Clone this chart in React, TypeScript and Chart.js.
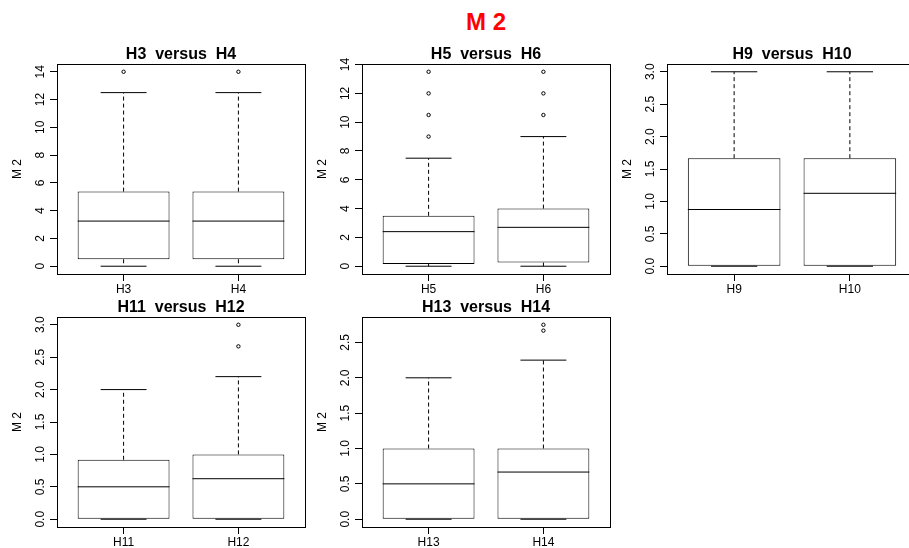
import React, { useEffect, useRef } from "react";
import { Chart, registerables } from "chart.js";

Chart.register(...registerables);

// ---------------- data ----------------
const MAIN_TITLE = "M 2";
const Y_AXIS_LABEL = "M 2";
const PANEL_TITLES = [
  "H3  versus  H4",
  "H5  versus  H6",
  "H9  versus  H10",
  "H11  versus  H12",
  "H13  versus  H14",
];
const GROUP_NAMES = [
  ["H3", "H4"],
  ["H5", "H6"],
  ["H9", "H10"],
  ["H11", "H12"],
  ["H13", "H14"],
];
const LOWER_WHISKERS = [
  [0, 0],
  [0, 0],
  [0, 0],
  [0, 0],
  [0, 0],
];
const Q1_VALUES = [
  [0.5, 0.5],
  [0.15, 0.25],
  [0, 0],
  [0, 0],
  [0, 0],
];
const MEDIANS = [
  [3.25, 3.25],
  [2.4, 2.7],
  [0.875, 1.125],
  [0.5, 0.625],
  [0.5, 0.667],
];
const Q3_VALUES = [
  [5.375, 5.375],
  [3.5, 4.0],
  [1.667, 1.667],
  [0.917, 1.0],
  [1.0, 1.0],
];
const UPPER_WHISKERS = [
  [12.5, 12.5],
  [7.5, 9],
  [3, 3],
  [2, 2.2],
  [2, 2.25],
];
const OUTLIERS = [
  [[14], [14]],
  [[9, 10.5, 12, 13.5], [10.5, 12, 13.5]],
  [[], []],
  [[], [2.667, 3]],
  [[], [2.667, 2.75]],
];
const Y_TICK_LABELS = [
  ["0", "2", "4", "6", "8", "10", "12", "14"],
  ["0", "2", "4", "6", "8", "10", "12", "14"],
  ["0.0", "0.5", "1.0", "1.5", "2.0", "2.5", "3.0"],
  ["0.0", "0.5", "1.0", "1.5", "2.0", "2.5", "3.0"],
  ["0.0", "0.5", "1.0", "1.5", "2.0", "2.5"],
];

// ---------------- layout / style ----------------
const FONT = '"Liberation Sans", Arial, Helvetica, sans-serif';
const PANEL_POS = [
  { left: 0, top: 34 },
  { left: 305, top: 34 },
  { left: 610, top: 34 },
  { left: 0, top: 287 },
  { left: 305, top: 287 },
];
const CANVAS_W = 310;
const CANVAS_H = 262;
const Y_AXIS_W = 57;
const PLOT_W = 250;
const X_AXIS_H = 22;
const TICK_LEN = 7;
const LABEL_OFFSET = 16; // distance from frame to centre of y tick labels
const BOX_HALF = 0.4;
const CAP_HALF = 0.2;

Chart.defaults.font.family = FONT;
Chart.defaults.color = "#000";

function measureWidest(labels: string[]): number {
  const c = document.createElement("canvas");
  const ctx = c.getContext("2d")!;
  ctx.font = `normal 12px ${FONT}`;
  return Math.max(...labels.map((l) => ctx.measureText(l).width));
}

function align(v: number): number {
  return Math.round(v - 0.5) + 0.5;
}

const framePlugin = {
  id: "rframe",
  afterDraw(chart: any) {
    const { ctx, chartArea: a } = chart;
    ctx.save();
    ctx.strokeStyle = "#000";
    ctx.lineWidth = 1;
    const l = align(a.left);
    const r = align(a.right);
    const t = align(a.top);
    const b = align(a.bottom);
    ctx.strokeRect(l, t, r - l, b - t);
    ctx.restore();
  },
};

function buildConfig(p: number): any {
  const names = GROUP_NAMES[p];
  const xs = names.map((_, i) => i + 1);
  const n = names.length;

  const allVals: number[] = [];
  xs.forEach((_, i) => {
    allVals.push(LOWER_WHISKERS[p][i], UPPER_WHISKERS[p][i], ...OUTLIERS[p][i]);
  });
  const lo = Math.min(...allVals);
  const hi = Math.max(...allVals);
  const yPad = (hi - lo) * 0.04;
  const xPad = n * 0.04;

  const boxes = xs.map((x, i) => ({ x, y: [Q1_VALUES[p][i], Q3_VALUES[p][i]] }));
  const medians = xs.flatMap((x, i) => [
    { x: x - BOX_HALF, y: MEDIANS[p][i] },
    { x: x + BOX_HALF, y: MEDIANS[p][i] },
    { x: x + 0.5, y: null },
  ]);
  const whiskers = xs.flatMap((x, i) => [
    { x, y: Q3_VALUES[p][i] },
    { x, y: UPPER_WHISKERS[p][i] },
    { x, y: null },
    { x, y: Q1_VALUES[p][i] },
    { x, y: LOWER_WHISKERS[p][i] },
    { x, y: null },
  ]);
  const caps = xs.flatMap((x, i) => [
    { x: x - CAP_HALF, y: UPPER_WHISKERS[p][i] },
    { x: x + CAP_HALF, y: UPPER_WHISKERS[p][i] },
    { x, y: null },
    { x: x - CAP_HALF, y: LOWER_WHISKERS[p][i] },
    { x: x + CAP_HALF, y: LOWER_WHISKERS[p][i] },
    { x, y: null },
  ]);
  const outliers = xs.flatMap((x, i) => OUTLIERS[p][i].map((v) => ({ x, y: v })));

  const yLabels = Y_TICK_LABELS[p];
  const widest = measureWidest(yLabels);
  const yTickPad = Math.max(0, LABEL_OFFSET - TICK_LEN - widest / 2);

  const gridOpts = {
    display: true,
    drawOnChartArea: false,
    drawTicks: true,
    tickLength: TICK_LEN,
    color: "#000",
    lineWidth: 1,
    offset: false,
  };

  return {
    type: "bar",
    data: {
      datasets: [
        {
          type: "bar",
          data: boxes,
          backgroundColor: "#ffffff",
          borderColor: "#000000",
          borderWidth: 1,
          borderSkipped: false,
          categoryPercentage: 1,
          barPercentage: 0.8,
          inflateAmount: 0,
          order: 3,
        },
        {
          type: "line",
          data: whiskers,
          borderColor: "#000000",
          borderWidth: 1,
          borderDash: [4, 3],
          pointRadius: 0,
          fill: false,
          tension: 0,
          spanGaps: false,
          order: 2,
        },
        {
          type: "line",
          data: caps,
          borderColor: "#000000",
          borderWidth: 1,
          pointRadius: 0,
          fill: false,
          tension: 0,
          spanGaps: false,
          order: 1,
        },
        {
          type: "line",
          data: medians,
          borderColor: "#000000",
          borderWidth: 1,
          pointRadius: 0,
          fill: false,
          tension: 0,
          spanGaps: false,
          order: 1,
        },
        {
          type: "scatter",
          data: outliers,
          pointStyle: "circle",
          pointRadius: 1.7,
          borderColor: "#000000",
          backgroundColor: "rgba(0,0,0,0)",
          borderWidth: 1,
          order: 0,
        },
      ],
    },
    options: {
      responsive: false,
      animation: false,
      devicePixelRatio: 1,
      events: [],
      layout: { padding: { left: 0, right: CANVAS_W - Y_AXIS_W - PLOT_W, top: 0, bottom: 0 } },
      plugins: {
        legend: { display: false },
        tooltip: { enabled: false },
        title: {
          display: true,
          text: PANEL_TITLES[p],
          fullSize: false,
          color: "#000",
          font: { size: 16, weight: "bold", family: FONT, lineHeight: "19px" },
          padding: { top: 11, bottom: 0 },
        },
      },
      scales: {
        x: {
          type: "linear",
          min: 0.5 - xPad,
          max: n + 0.5 + xPad,
          offset: false,
          bounds: "data",
          afterBuildTicks: (s: any) => {
            s.ticks = xs.map((v) => ({ value: v }));
          },
          afterFit: (s: any) => {
            s.height = X_AXIS_H;
          },
          ticks: {
            callback: (_v: any, i: number) => names[i],
            autoSkip: false,
            minRotation: 0,
            maxRotation: 0,
            padding: 1,
            color: "#000",
            font: { size: 12, family: FONT },
          },
          grid: gridOpts,
          border: { display: false },
        },
        y: {
          type: "linear",
          min: lo - yPad,
          max: hi + yPad,
          bounds: "data",
          beginAtZero: false,
          afterBuildTicks: (s: any) => {
            s.ticks = yLabels.map((t) => ({ value: parseFloat(t) }));
          },
          afterFit: (s: any) => {
            s.width = Y_AXIS_W;
          },
          ticks: {
            callback: (_v: any, i: number) => yLabels[i],
            autoSkip: false,
            minRotation: 90,
            maxRotation: 90,
            crossAlign: "center",
            padding: yTickPad,
            color: "#000",
            font: { size: 12, family: FONT },
          },
          grid: gridOpts,
          border: { display: false },
          title: {
            display: true,
            text: Y_AXIS_LABEL,
            color: "#000",
            font: { size: 12, family: FONT, lineHeight: 1.2 },
            padding: { top: 10.8, bottom: 0 },
          },
        },
      },
    },
    plugins: [framePlugin],
  };
}

function Panel({ index }: { index: number }) {
  const ref = useRef<HTMLCanvasElement | null>(null);
  useEffect(() => {
    if (!ref.current) return;
    const chart = new Chart(ref.current, buildConfig(index));
    return () => chart.destroy();
  }, [index]);
  const pos = PANEL_POS[index];
  return (
    <canvas
      ref={ref}
      width={CANVAS_W}
      height={CANVAS_H}
      style={{
        position: "absolute",
        left: pos.left,
        top: pos.top,
        width: CANVAS_W,
        height: CANVAS_H,
      }}
    />
  );
}

export default function App() {
  return (
    <div
      style={{
        position: "absolute",
        left: 0,
        top: 0,
        width: 909,
        height: 548,
        overflow: "hidden",
        background: "#ffffff",
      }}
    >
      <div
        style={{
          position: "absolute",
          left: 0,
          top: 10,
          width: 972,
          textAlign: "center",
          font: `bold 24px ${FONT}`,
          lineHeight: "24px",
          color: "#ff0000",
        }}
      >
        {MAIN_TITLE}
      </div>
      {PANEL_TITLES.map((_, i) => (
        <Panel key={i} index={i} />
      ))}
    </div>
  );
}
